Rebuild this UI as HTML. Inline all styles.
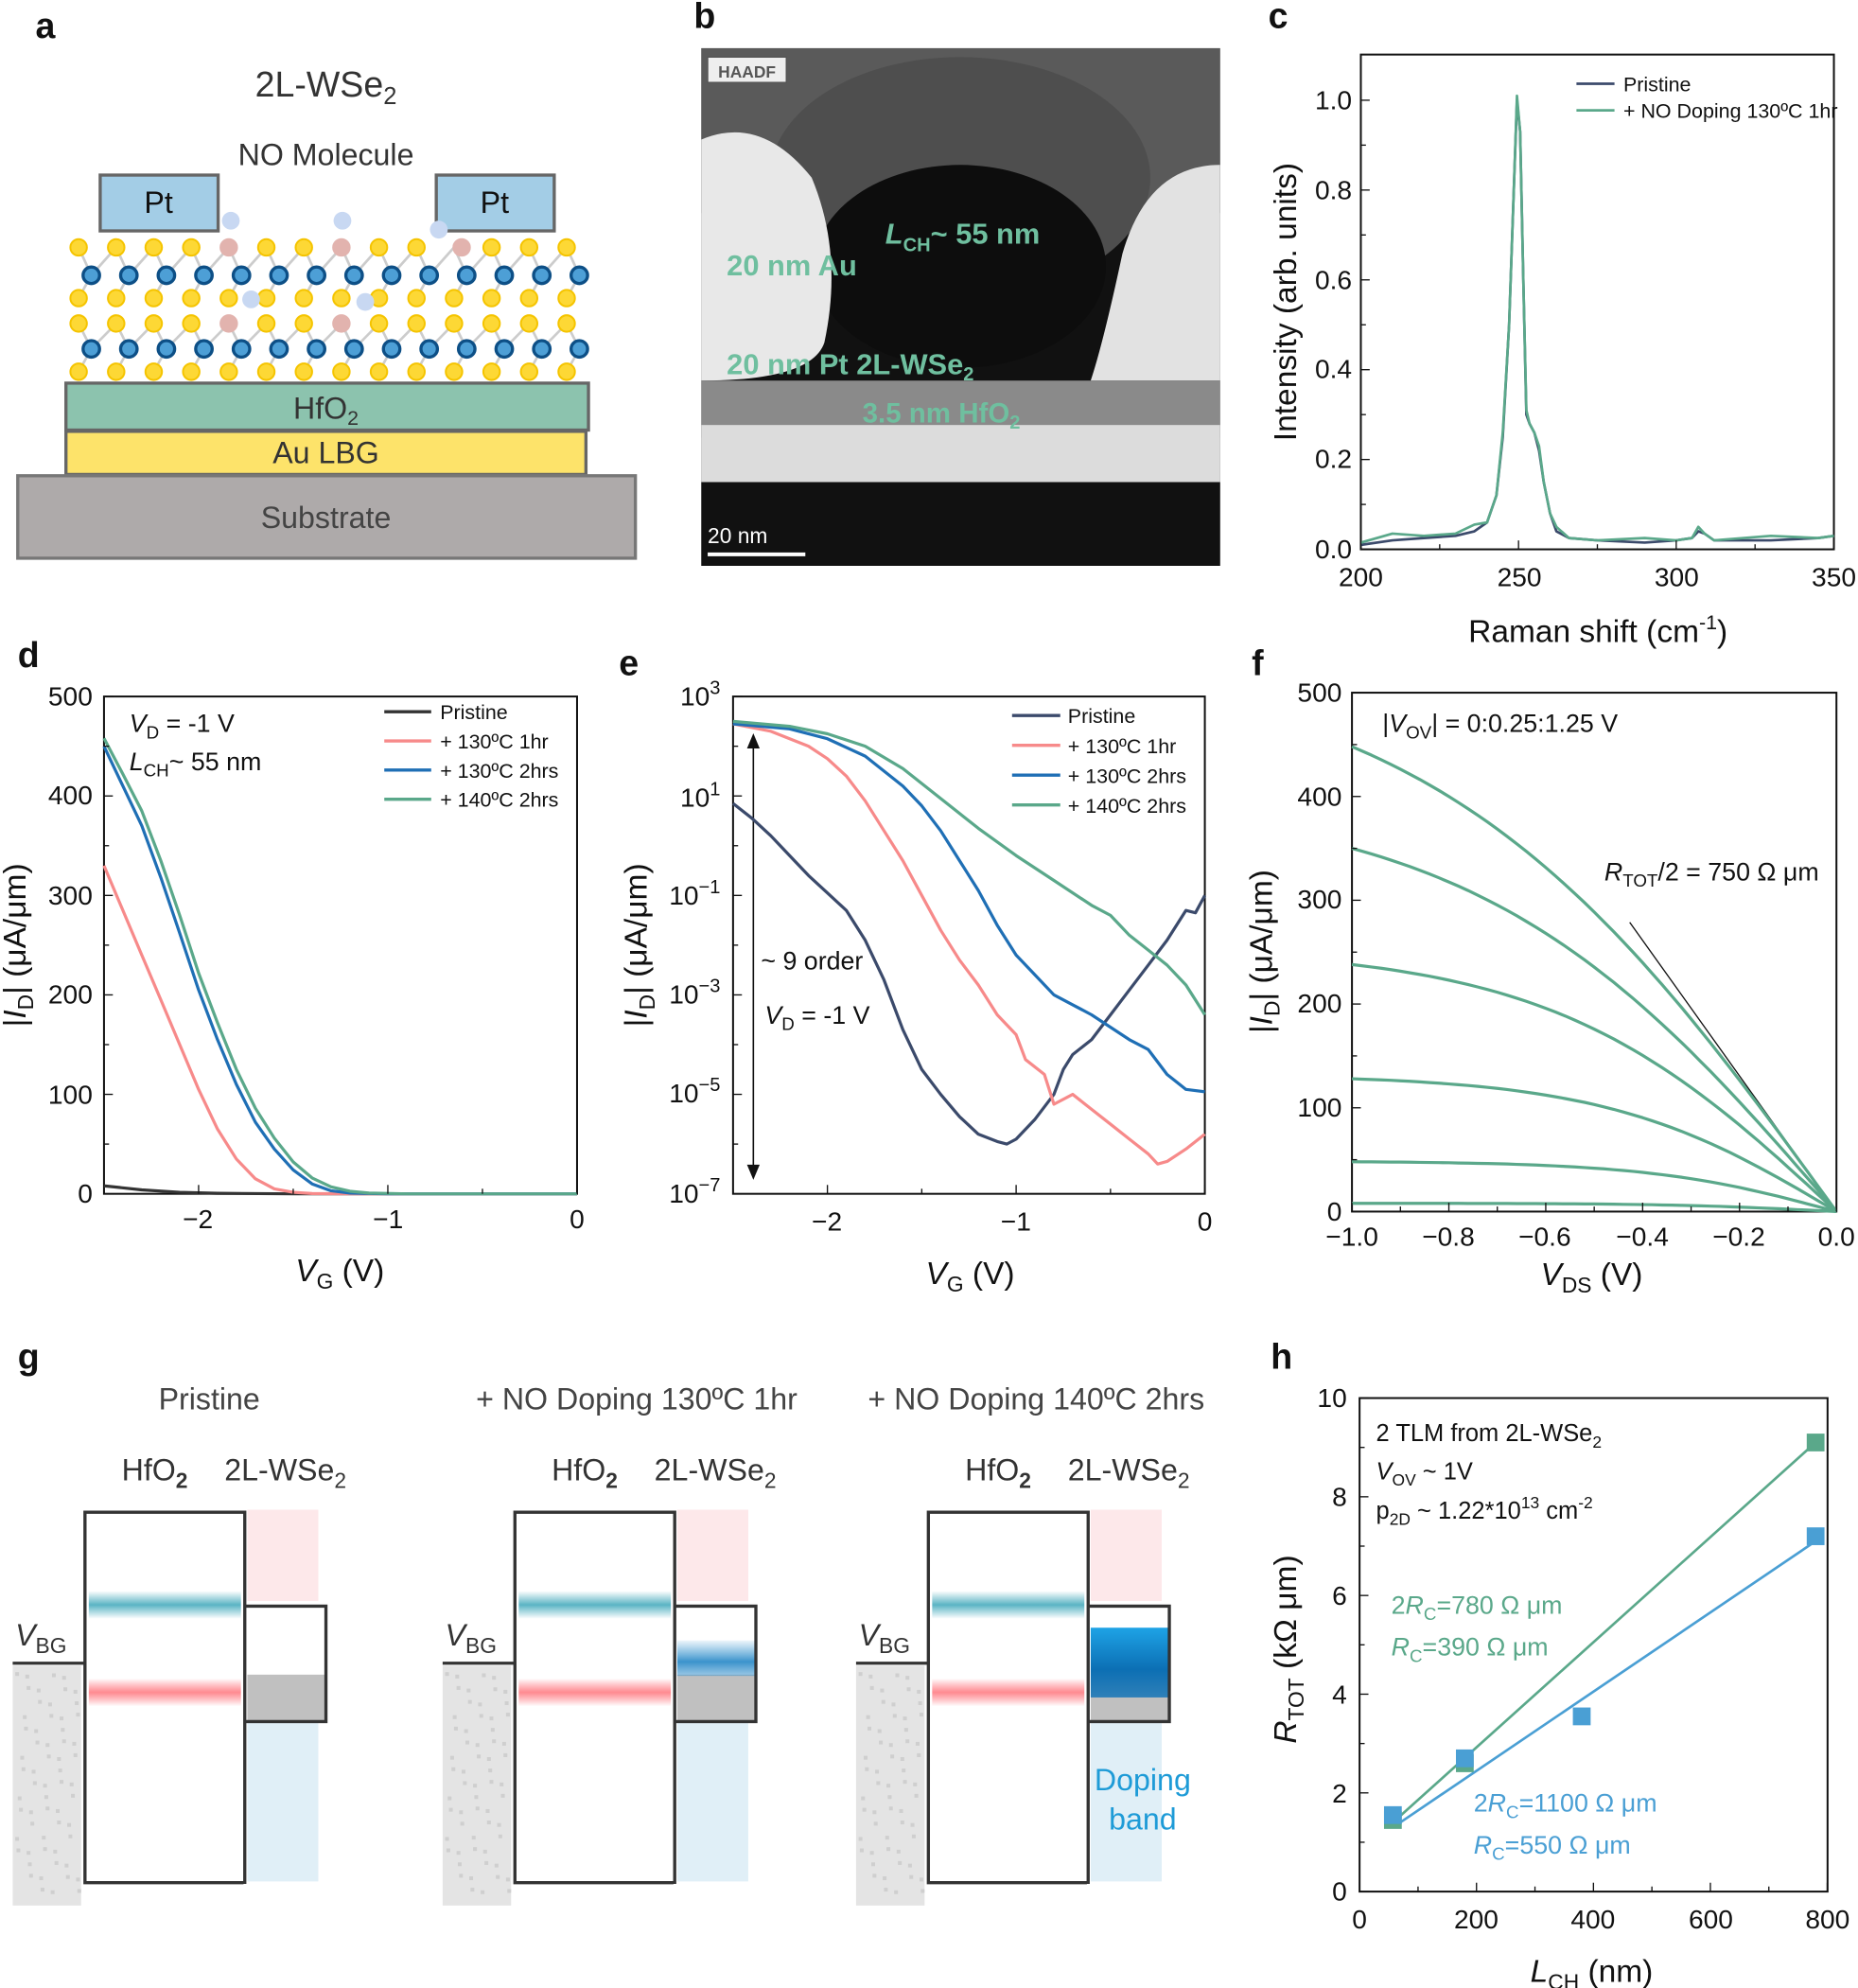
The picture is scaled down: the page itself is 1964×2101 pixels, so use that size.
<!DOCTYPE html>
<html><head><meta charset="utf-8"><style>
html,body{margin:0;padding:0;background:#fff}
svg{display:block}
text{font-family:"Liberation Sans",Arial,sans-serif;fill:#111}
.t{font-size:21px}.ax{font-size:25px}.lb{font-size:28px;font-weight:bold}.lg{font-size:16px}
</style></head><body>
<svg id="s" width="1964" height="2101" viewBox="0 0 1465 1567" preserveAspectRatio="none" xmlns="http://www.w3.org/2000/svg">
<defs>
<linearGradient id="gt" x1="0" y1="0" x2="0" y2="1"><stop offset="0" stop-color="#5ab4c4" stop-opacity="0"/><stop offset=".5" stop-color="#5ab4c4"/><stop offset="1" stop-color="#5ab4c4" stop-opacity="0"/></linearGradient>
<linearGradient id="gr" x1="0" y1="0" x2="0" y2="1"><stop offset="0" stop-color="#ff7b84" stop-opacity="0"/><stop offset=".5" stop-color="#ff8a90"/><stop offset="1" stop-color="#ff7b84" stop-opacity="0"/></linearGradient>
<linearGradient id="gb" x1="0" y1="0" x2="0" y2="1"><stop offset="0" stop-color="#4a9fd4" stop-opacity="0.1"/><stop offset=".6" stop-color="#3b93cc"/><stop offset="1" stop-color="#3b93cc" stop-opacity="0.5"/></linearGradient>
<linearGradient id="gb2" x1="0" y1="0" x2="0" y2="1"><stop offset="0" stop-color="#1ea3e6"/><stop offset=".6" stop-color="#0c6fb4"/><stop offset="1" stop-color="#2f80b8"/></linearGradient>
</defs>

<!-- panel labels -->
<text class="lb" x="28" y="30">a</text><text class="lb" x="547" y="22">b</text><text class="lb" x="1000" y="22">c</text>
<text class="lb" x="14" y="526">d</text><text class="lb" x="488" y="532">e</text><text class="lb" x="987" y="532">f</text>
<text class="lb" x="14" y="1079">g</text><text class="lb" x="1002" y="1079">h</text>

<!-- panel a -->
<text x="257" y="76" text-anchor="middle" style="font-size:28px;fill:#333">2L-WSe<tspan dy="6" style="font-size:19px">2</tspan></text>
<text x="257" y="130" text-anchor="middle" style="font-size:24px;fill:#333">NO Molecule</text>
<rect x="79" y="138" width="93" height="44" fill="#a3cde6" stroke="#666" stroke-width="2.5"/>
<rect x="344" y="138" width="93" height="44" fill="#a3cde6" stroke="#666" stroke-width="2.5"/>
<text x="125" y="168" text-anchor="middle" style="font-size:24px">Pt</text>
<text x="390" y="168" text-anchor="middle" style="font-size:24px">Pt</text>
<g id="atoms"></g>
<rect x="52" y="302" width="412" height="37" fill="#8cc3ae" stroke="#666" stroke-width="2.5"/>
<rect x="52" y="340" width="410" height="34" fill="#fde36a" stroke="#666" stroke-width="2.5"/>
<rect x="14" y="375" width="487" height="65" fill="#aeaaaa" stroke="#777" stroke-width="2.5"/>
<text x="257" y="330" text-anchor="middle" style="font-size:24px;fill:#333">HfO<tspan dy="5" style="font-size:16px">2</tspan></text>
<text x="257" y="365" text-anchor="middle" style="font-size:24px;fill:#333">Au LBG</text>
<text x="257" y="416" text-anchor="middle" style="font-size:24px;fill:#444">Substrate</text>

<!-- panel b -->
<rect x="553" y="38" width="409" height="408" fill="#111"/>
<rect x="553" y="38" width="409" height="130" fill="#5a5a5a"/>
<ellipse cx="757" cy="140" rx="150" ry="95" fill="#4e4e4e"/>
<ellipse cx="757" cy="210" rx="115" ry="80" fill="#0d0d0d"/>
<path d="M553,110 Q600,90 640,140 Q665,200 650,270 Q640,300 553,300Z" fill="#e8e8e8"/>
<path d="M962,130 Q905,130 885,200 Q870,270 860,300 L962,300Z" fill="#e2e2e2"/>
<rect x="553" y="300" width="409" height="45" fill="#8a8a8a"/>
<rect x="553" y="335" width="409" height="45" fill="#dcdcdc"/>
<rect x="553" y="380" width="409" height="66" fill="#111"/>
<rect x="558" y="45" width="62" height="20" fill="#eee" stroke="#555"/>
<text x="589" y="61" text-anchor="middle" style="font-size:13px;font-weight:bold;fill:#555">HAADF</text>
<line x1="558" y1="437" x2="635" y2="437" stroke="#fff" stroke-width="3"/>
<text x="558" y="428" style="font-size:17px;fill:#fff">20 nm</text>
<g style="font-size:23px;font-weight:bold">
<text x="698" y="192" style="fill:#6fbf9f;font-size:23px;font-weight:bold"><tspan font-style="italic">L</tspan><tspan dy="6" style="font-size:15px">CH</tspan><tspan dy="-6">~ 55 nm</tspan></text>
<text x="573" y="217" style="fill:#6fbf9f;font-size:23px;font-weight:bold">20 nm Au</text>
<text x="573" y="295" style="fill:#6fbf9f;font-size:23px;font-weight:bold">20 nm Pt  2L-WSe<tspan dy="5" style="font-size:15px">2</tspan></text>
<text x="680" y="333" style="fill:#6fbf9f;font-size:22px;font-weight:bold">3.5 nm HfO<tspan dy="5" style="font-size:15px">2</tspan></text>
</g>

<!-- panel c axes -->
<rect x="1073" y="43" width="373" height="390" fill="none" stroke="#111" stroke-width="1.5"/>
<g class="t" text-anchor="middle">
<text x="1073" y="462">200</text><text x="1198" y="462">250</text><text x="1322" y="462">300</text><text x="1446" y="462">350</text></g>
<g class="t" text-anchor="end">
<text x="1066" y="440">0.0</text><text x="1066" y="369">0.2</text><text x="1066" y="298">0.4</text><text x="1066" y="228">0.6</text><text x="1066" y="157">0.8</text><text x="1066" y="86">1.0</text></g>
<text class="ax" transform="translate(1022,238) rotate(-90)" text-anchor="middle">Intensity (arb. units)</text>
<text class="ax" x="1260" y="506" text-anchor="middle">Raman shift (cm<tspan dy="-10" style="font-size:16px">-1</tspan><tspan dy="10">)</tspan></text>
<line x1="1243" y1="66" x2="1273" y2="66" stroke="#3b4a6b" stroke-width="2"/><text class="lg" x="1280" y="72">Pristine</text>
<line x1="1243" y1="87" x2="1273" y2="87" stroke="#5aa88a" stroke-width="2"/><text class="lg" x="1280" y="93">+ NO Doping 130ºC 1hr</text>

<!-- panel d axes -->
<rect x="82" y="549" width="373" height="392" fill="none" stroke="#111" stroke-width="1.5"/>
<g class="t" text-anchor="end">
<text x="73" y="948">0</text><text x="73" y="870">100</text><text x="73" y="791">200</text><text x="73" y="713">300</text><text x="73" y="634">400</text><text x="73" y="556">500</text></g>
<g class="t" text-anchor="middle"><text x="156" y="968">−2</text><text x="306" y="968">−1</text><text x="455" y="968">0</text></g>
<text class="ax" transform="translate(20,745) rotate(-90)" text-anchor="middle">|<tspan font-style="italic">I</tspan><tspan dy="6" style="font-size:17px">D</tspan><tspan dy="-6">| (μA/μm)</tspan></text>
<text class="ax" x="268" y="1010" text-anchor="middle"><tspan font-style="italic">V</tspan><tspan dy="6" style="font-size:17px">G</tspan><tspan dy="-6"> (V)</tspan></text>
<text x="102" y="577" style="font-size:20px"><tspan font-style="italic">V</tspan><tspan dy="5" style="font-size:14px">D</tspan><tspan dy="-5"> = -1 V</tspan></text>
<text x="102" y="607" style="font-size:20px"><tspan font-style="italic">L</tspan><tspan dy="5" style="font-size:14px">CH</tspan><tspan dy="-5">~ 55 nm</tspan></text>
<g id="legd"></g>

<!-- panel e axes -->
<rect x="578" y="549" width="372" height="392" fill="none" stroke="#111" stroke-width="1.5"/>
<g class="t" text-anchor="end">
<text x="568" y="556">10<tspan dy="-9" style="font-size:15px">3</tspan></text>
<text x="568" y="636">10<tspan dy="-9" style="font-size:15px">1</tspan></text>
<text x="568" y="713">10<tspan dy="-9" style="font-size:15px">−1</tspan></text>
<text x="568" y="791">10<tspan dy="-9" style="font-size:15px">−3</tspan></text>
<text x="568" y="869">10<tspan dy="-9" style="font-size:15px">−5</tspan></text>
<text x="568" y="948">10<tspan dy="-9" style="font-size:15px">−7</tspan></text></g>
<g class="t" text-anchor="middle"><text x="652" y="970">−2</text><text x="801" y="970">−1</text><text x="950" y="970">0</text></g>
<text class="ax" transform="translate(510,745) rotate(-90)" text-anchor="middle">|<tspan font-style="italic">I</tspan><tspan dy="6" style="font-size:17px">D</tspan><tspan dy="-6">| (μA/μm)</tspan></text>
<text class="ax" x="765" y="1012" text-anchor="middle"><tspan font-style="italic">V</tspan><tspan dy="6" style="font-size:17px">G</tspan><tspan dy="-6"> (V)</tspan></text>
<line x1="594" y1="580" x2="594" y2="928" stroke="#111" stroke-width="1.2"/>
<path d="M589,590 L594,578 L599,590Z M589,918 L594,930 L599,918Z" fill="#111"/>
<text x="600" y="764" style="font-size:20px">~ 9 order</text>
<text x="603" y="807" style="font-size:20px"><tspan font-style="italic">V</tspan><tspan dy="5" style="font-size:14px">D</tspan><tspan dy="-5"> = -1 V</tspan></text>
<g id="lege"></g>

<!-- panel f axes -->
<rect x="1066" y="546" width="382" height="409" fill="none" stroke="#111" stroke-width="1.5"/>
<g class="t" text-anchor="end">
<text x="1058" y="962">0</text><text x="1058" y="880">100</text><text x="1058" y="798">200</text><text x="1058" y="716">300</text><text x="1058" y="635">400</text><text x="1058" y="553">500</text></g>
<g class="t" text-anchor="middle"><text x="1066" y="982">−1.0</text><text x="1142" y="982">−0.8</text><text x="1218" y="982">−0.6</text><text x="1295" y="982">−0.4</text><text x="1371" y="982">−0.2</text><text x="1448" y="982">0.0</text></g>
<text class="ax" transform="translate(1003,750) rotate(-90)" text-anchor="middle">|<tspan font-style="italic">I</tspan><tspan dy="6" style="font-size:17px">D</tspan><tspan dy="-6">| (μA/μm)</tspan></text>
<text class="ax" x="1255" y="1013" text-anchor="middle"><tspan font-style="italic">V</tspan><tspan dy="6" style="font-size:17px">DS</tspan><tspan dy="-6"> (V)</tspan></text>
<text x="1090" y="577" style="font-size:20px">|<tspan font-style="italic">V</tspan><tspan dy="5" style="font-size:14px">OV</tspan><tspan dy="-5">| = 0:0.25:1.25 V</tspan></text>
<text x="1265" y="694" style="font-size:20px"><tspan font-style="italic">R</tspan><tspan dy="5" style="font-size:14px">TOT</tspan><tspan dy="-5">/2 = 750 Ω μm</tspan></text>
<line x1="1285" y1="727" x2="1448" y2="955" stroke="#111" stroke-width="1"/>

<!-- panel h axes -->
<rect x="1072" y="1102" width="369" height="389" fill="none" stroke="#111" stroke-width="1.5"/>
<g class="t" text-anchor="end">
<text x="1062" y="1498">0</text><text x="1062" y="1421">2</text><text x="1062" y="1343">4</text><text x="1062" y="1265">6</text><text x="1062" y="1187">8</text><text x="1062" y="1109">10</text></g>
<g class="t" text-anchor="middle"><text x="1072" y="1520">0</text><text x="1164" y="1520">200</text><text x="1256" y="1520">400</text><text x="1349" y="1520">600</text><text x="1441" y="1520">800</text></g>
<text class="ax" transform="translate(1022,1300) rotate(-90)" text-anchor="middle"><tspan font-style="italic">R</tspan><tspan dy="6" style="font-size:17px">TOT</tspan><tspan dy="-6"> (kΩ μm)</tspan></text>
<text class="ax" x="1255" y="1562" text-anchor="middle"><tspan font-style="italic">L</tspan><tspan dy="6" style="font-size:17px">CH</tspan><tspan dy="-6"> (nm)</tspan></text>
<text x="1085" y="1136" style="font-size:19px">2 TLM  from 2L-WSe<tspan dy="5" style="font-size:13px">2</tspan></text>
<text x="1085" y="1166" style="font-size:19px"><tspan font-style="italic">V</tspan><tspan dy="5" style="font-size:13px">OV</tspan><tspan dy="-5"> ~ 1V</tspan></text>
<text x="1085" y="1197" style="font-size:19px">p<tspan dy="5" style="font-size:13px">2D</tspan><tspan dy="-5"> ~ 1.22*10</tspan><tspan dy="-8" style="font-size:13px">13</tspan><tspan dy="8"> cm</tspan><tspan dy="-8" style="font-size:13px">-2</tspan></text>
<g style="font-size:20px">
<text x="1097" y="1272" style="fill:#5aa88a;font-size:20px">2<tspan font-style="italic">R</tspan><tspan dy="5" style="font-size:14px">C</tspan><tspan dy="-5">=780 Ω μm</tspan></text>
<text x="1097" y="1305" style="fill:#5aa88a;font-size:20px"><tspan font-style="italic">R</tspan><tspan dy="5" style="font-size:14px">C</tspan><tspan dy="-5">=390 Ω μm</tspan></text>
<text x="1162" y="1428" style="fill:#4a9fd4;font-size:20px">2<tspan font-style="italic">R</tspan><tspan dy="5" style="font-size:14px">C</tspan><tspan dy="-5">=1100 Ω μm</tspan></text>
<text x="1162" y="1461" style="fill:#4a9fd4;font-size:20px"><tspan font-style="italic">R</tspan><tspan dy="5" style="font-size:14px">C</tspan><tspan dy="-5">=550 Ω μm</tspan></text>
</g>
<g id="hdat"></g>

<!-- panel g -->
<g id="gdiag"></g>
<g class="ax" style="font-size:24px" text-anchor="middle">
<text x="165" y="1111" style="fill:#444;font-size:24px">Pristine</text>
<text x="502" y="1111" style="fill:#444;font-size:24px">+ NO Doping 130ºC 1hr</text>
<text x="817" y="1111" style="fill:#444;font-size:24px">+ NO Doping 140ºC 2hrs</text>
</g>
<text x="901" y="1411" text-anchor="middle" style="font-size:24px;fill:#1e9bd7">Doping</text>
<text x="901" y="1442" text-anchor="middle" style="font-size:24px;fill:#1e9bd7">band</text>

<g id="curves"></g>
</svg>
<script>
var NS="http://www.w3.org/2000/svg";
function el(p,tag,a){var e=document.createElementNS(NS,tag);for(var k in a)e.setAttribute(k,a[k]);document.getElementById(p).appendChild(e);return e;}
function poly(p,pts,col,w){el(p,"polyline",{points:pts.map(function(q){return q[0].toFixed(1)+","+q[1].toFixed(1)}).join(" "),fill:"none",stroke:col,"stroke-width":w||2.2,"stroke-linejoin":"round"});}
function txt(p,x,y,s,st,anc){var e=el(p,"text",{x:x,y:y,style:st||"",'text-anchor':anc||"start"});e.textContent=s;return e;}
(function(){var A="atoms";
var ys=[195,235,255,293],yb=[217,275];
for(var i=0;i<14;i++){var xy=62+i*29.6,xb=72+i*29.6;
 yb.forEach(function(y,j){var y1=ys[j*2],y2=ys[j*2+1];
  el(A,"line",{x1:xy,y1:y1,x2:xb,y2:y,stroke:"#ccc","stroke-width":2});
  el(A,"line",{x1:xy,y1:y2,x2:xb,y2:y,stroke:"#ccc","stroke-width":2});
  if(i<13){el(A,"line",{x1:xy+29.6,y1:y1,x2:xb,y2:y,stroke:"#ccc","stroke-width":2});}
 });}
for(var i=0;i<14;i++){var xy=62+i*29.6,xb=72+i*29.6;
 ys.forEach(function(y){var pink=(i==4&&(y==195||y==255))||(i==7&&y==195)||(i==7&&y==255)||(i==10&&y==195);
  el(A,"circle",{cx:pink&&i==10?xy+6:xy,cy:y,r:6.5,fill:pink?"#e2b3ae":"#fdd835",stroke:pink?"#e2b3ae":"#f5c400","stroke-width":1.5});});
 yb.forEach(function(y){el(A,"circle",{cx:xb,cy:y,r:6.5,fill:"#4d9fd6",stroke:"#0d4f86","stroke-width":2.5});});}
[[182,174],[270,174],[346,181],[198,236],[288,238]].forEach(function(c){el(A,"circle",{cx:c[0],cy:c[1],r:7,fill:"#c8d8f2"});});
})();
(function(){var X=function(v){return 1073+(v-200)*373/150},Y=function(v){return 433-v*354};
var d=[[200,0.01],[210,0.02],[220,0.025],[230,0.03],[236,0.04],[240,0.06],[243,0.12],[245,0.25],[247,0.5],[248.5,0.8],[249.5,1.0],[250.5,0.93],[251.5,0.6],[252.5,0.3],[253.5,0.28],[255,0.26],[256.5,0.22],[258,0.15],[260,0.08],[262,0.04],[266,0.025],[275,0.02],[290,0.015],[300,0.02],[305,0.025],[307,0.04],[309,0.035],[312,0.02],[330,0.02],[345,0.025],[350,0.03]];
var p=d.map(function(q){return[X(q[0]),Y(q[1])]});
poly("curves",p,"#3b4a6b",2);
var p2=d.map(function(q,i){return[X(q[0]),Y(q[1]+(i%3==1?0.01:0)+(q[0]<240?0.005:0))]});
poly("curves",p2,"#5aa88a",2);
for(var v=200;v<=350;v+=25){var x=X(v);el("curves","line",{x1:x,y1:433,x2:x,y2:v%50==0?426:429,stroke:"#111"});}
for(var v=0;v<=1.001;v+=0.1){var y=Y(v);el("curves","line",{x1:1073,y1:y,x2:(Math.round(v*10)%2==0)?1080:1077,y2:y,stroke:"#111"});}
})();
(function(){var X=function(v){return 82+(v+2.5)*149.2},Y=function(v){return 941-v*0.784};
var S=[["#333",[[-2.5,8],[-2.3,4],[-2.1,1.5],[-1.9,0.5],[-1.5,0],[0,0]]],
["#f78a8a",[[-2.5,330],[-2.4,285],[-2.3,240],[-2.2,195],[-2.1,150],[-2.0,105],[-1.9,65],[-1.8,35],[-1.7,15],[-1.6,5],[-1.5,1.5],[-1.4,0.3],[-1.2,0],[0,0]]],
["#1f6fb5",[[-2.5,450],[-2.4,410],[-2.3,370],[-2.2,318],[-2.1,262],[-2.0,205],[-1.9,155],[-1.8,110],[-1.7,72],[-1.6,45],[-1.5,24],[-1.4,10],[-1.3,3],[-1.2,0.8],[-1.0,0],[0,0]]],
["#5aa88a",[[-2.5,458],[-2.4,422],[-2.3,385],[-2.2,335],[-2.1,280],[-2.0,222],[-1.9,172],[-1.8,125],[-1.7,86],[-1.6,56],[-1.5,32],[-1.4,16],[-1.3,7],[-1.2,2.5],[-1.1,0.8],[-0.9,0],[0,0]]]];
var names=["Pristine","+ 130ºC 1hr","+ 130ºC 2hrs","+ 140ºC 2hrs"];
S.forEach(function(s,i){poly("curves",s[1].map(function(q){return[X(q[0]),Y(q[1])]}),s[0],2.4);
 var y=561+i*23;el("legd","line",{x1:303,y1:y,x2:340,y2:y,stroke:s[0],"stroke-width":2.5});txt("legd",347,y+6,names[i],"font-size:16px");});
for(var v=-2.5;v<=0.001;v+=0.5){var x=X(v);el("curves","line",{x1:x,y1:941,x2:x,y2:Math.abs(v%1)<0.01?934:937,stroke:"#111"});}
for(var v=0;v<=500;v+=50){var y=Y(v);el("curves","line",{x1:82,y1:y,x2:v%100==0?89:86,y2:y,stroke:"#111"});}
var Xe=function(v){return 578+(v+2.5)*148.8},Ye=function(v){return 549+(3-v)*39.2};
var E=[["#3b4a6b",[[-2.5,0.85],[-2.4,0.55],[-2.3,0.2],[-2.2,-0.2],[-2.1,-0.6],[-2.0,-0.95],[-1.9,-1.3],[-1.8,-1.9],[-1.7,-2.7],[-1.6,-3.7],[-1.5,-4.5],[-1.4,-5.0],[-1.3,-5.45],[-1.2,-5.8],[-1.1,-5.95],[-1.05,-6.0],[-1.0,-5.9],[-0.9,-5.5],[-0.8,-5.0],[-0.75,-4.5],[-0.7,-4.2],[-0.6,-3.9],[-0.5,-3.4],[-0.4,-2.9],[-0.3,-2.4],[-0.2,-1.9],[-0.1,-1.3],[-0.05,-1.35],[0,-1.0]]],
["#f78a8a",[[-2.5,2.45],[-2.3,2.3],[-2.1,2.0],[-2.0,1.75],[-1.9,1.4],[-1.8,0.9],[-1.7,0.3],[-1.6,-0.3],[-1.5,-1.0],[-1.4,-1.7],[-1.3,-2.3],[-1.2,-2.8],[-1.1,-3.4],[-1.0,-3.8],[-0.95,-4.3],[-0.85,-4.6],[-0.8,-5.2],[-0.7,-5.0],[-0.6,-5.3],[-0.5,-5.6],[-0.4,-5.9],[-0.3,-6.2],[-0.25,-6.4],[-0.2,-6.35],[-0.1,-6.1],[0,-5.8]]],
["#1f6fb5",[[-2.5,2.45],[-2.2,2.35],[-2.0,2.15],[-1.8,1.8],[-1.6,1.2],[-1.5,0.8],[-1.4,0.3],[-1.3,-0.3],[-1.2,-0.9],[-1.1,-1.6],[-1.0,-2.2],[-0.9,-2.6],[-0.8,-3.0],[-0.7,-3.2],[-0.6,-3.4],[-0.5,-3.65],[-0.4,-3.9],[-0.3,-4.1],[-0.2,-4.6],[-0.1,-4.9],[0,-4.95]]],
["#5aa88a",[[-2.5,2.5],[-2.2,2.4],[-2.0,2.25],[-1.8,2.0],[-1.6,1.55],[-1.4,0.95],[-1.2,0.35],[-1.0,-0.2],[-0.8,-0.7],[-0.6,-1.2],[-0.5,-1.4],[-0.4,-1.8],[-0.3,-2.1],[-0.2,-2.4],[-0.1,-2.8],[0,-3.4]]]];
E.forEach(function(s,i){poly("curves",s[1].map(function(q){return[Xe(q[0]),Ye(q[1])]}),s[0],2.4);
 var y=564+i*23.5;el("lege","line",{x1:798,y1:y,x2:836,y2:y,stroke:s[0],"stroke-width":2.5});txt("lege",842,y+6,names[i],"font-size:16px");});
for(var v=-2.5;v<=0.001;v+=0.5){var x=Xe(v);el("curves","line",{x1:x,y1:941,x2:x,y2:Math.abs(v%1)<0.01?934:937,stroke:"#111"});}
for(var v=-7;v<=3;v++){var y=Ye(v);el("curves","line",{x1:578,y1:y,x2:(v%2!=0)?585:582,y2:y,stroke:"#111"});}
})();
(function(){var X=function(v){return 1448+v*382},Y=function(v){return 955-v*0.818};
var I=[8,48,128,238,350,448],R=[3,2.6,2.1,1.7,1.35,1.2];
I.forEach(function(is,k){var p=[];for(var i=0;i<=50;i++){var v=-1+i/50;var val=is*Math.tanh(-v*R[k])/Math.tanh(R[k]);p.push([X(v),Y(val)]);}poly("curves",p,"#5aa88a",2.4);});
for(var v=-1;v<=0.001;v+=0.1){var x=X(v);el("curves","line",{x1:x,y1:955,x2:x,y2:Math.round(v*10)%2==0?948:951,stroke:"#111"});}
for(var v=0;v<=500;v+=50){var y=Y(v);el("curves","line",{x1:1066,y1:y,x2:v%100==0?1073:1070,y2:y,stroke:"#111"});}
})();
(function(){var X=function(v){return 1072+v*0.461},Y=function(v){return 1491-v*38.9};
el("hdat","line",{x1:X(57),y1:Y(1.4),x2:X(780),y2:Y(9.1),stroke:"#5aa88a","stroke-width":2});
el("hdat","line",{x1:X(57),y1:Y(1.3),x2:X(780),y2:Y(7.1),stroke:"#4a9fd4","stroke-width":2});
[[57,1.45],[180,2.6],[780,9.1]].forEach(function(q){el("hdat","rect",{x:X(q[0])-7,y:Y(q[1])-7,width:14,height:14,fill:"#5aa88a"});});
[[57,1.55],[180,2.7],[380,3.55],[780,7.2]].forEach(function(q){el("hdat","rect",{x:X(q[0])-7,y:Y(q[1])-7,width:14,height:14,fill:"#4a9fd4"});});
for(var v=0;v<=800;v+=100){var x=X(v);el("hdat","line",{x1:x,y1:1491,x2:x,y2:v%200==0?1484:1487,stroke:"#111"});}
for(var v=0;v<=10;v+=1){var y=Y(v);el("hdat","line",{x1:1072,y1:y,x2:v%2==0?1079:1076,y2:y,stroke:"#111"});}
})();
(function(){var G="gdiag";
[0,339,665].forEach(function(o,k){
 el(G,"rect",{x:10+o,y:1313,width:54,height:189,fill:"#e4e4e4"});
 for(var i=0;i<60;i++){el(G,"rect",{x:12+o+((i*37)%50),y:1318+((i*53)%180),width:3,height:3,fill:"#cfcfcf"});}
 el(G,"rect",{x:195+o,y:1190,width:56,height:72,fill:"#fde8ea"});
 el(G,"rect",{x:195+o,y:1358,width:56,height:125,fill:"#e0eff7"});
 el(G,"rect",{x:195+o,y:k==2?1338:1320,width:62,height:k==2?19:37,fill:"#c0c0c0"});
 if(k==1)el(G,"rect",{x:195+o,y:1293,width:62,height:28,fill:"url(#gb)"});
 if(k==2)el(G,"rect",{x:195+o,y:1283,width:62,height:55,fill:"url(#gb2)"});
 el(G,"rect",{x:70+o,y:1254,width:120,height:22,fill:"url(#gt)"});
 el(G,"rect",{x:70+o,y:1323,width:120,height:22,fill:"url(#gr)"});
 el(G,"path",{d:"M"+(10+o)+",1311 H"+(67+o)+" V1192 H"+(193+o)+" V1485 M"+(67+o)+",1192 V1484 H"+(192+o)+" M"+(193+o)+",1266 H"+(257+o)+" V1357 H"+(193+o),fill:"none",stroke:"#333","stroke-width":2.5});
 var t=el(G,"text",{x:12+o,y:1297,style:"font-size:24px;fill:#333"});t.innerHTML='<tspan font-style="italic">V</tspan><tspan dy="6" style="font-size:17px">BG</tspan>';
 var a=el(G,"text",{x:122+o,y:1167,'text-anchor':"middle",style:"font-size:24px;fill:#333"});a.innerHTML='HfO<tspan dy="6" style="font-size:17px;font-weight:bold">2</tspan>';
 var b=el(G,"text",{x:225+o,y:1167,'text-anchor':"middle",style:"font-size:24px;fill:#333"});b.innerHTML='2L-WSe<tspan dy="6" style="font-size:17px">2</tspan>';
});})();
</script>
</body></html>
